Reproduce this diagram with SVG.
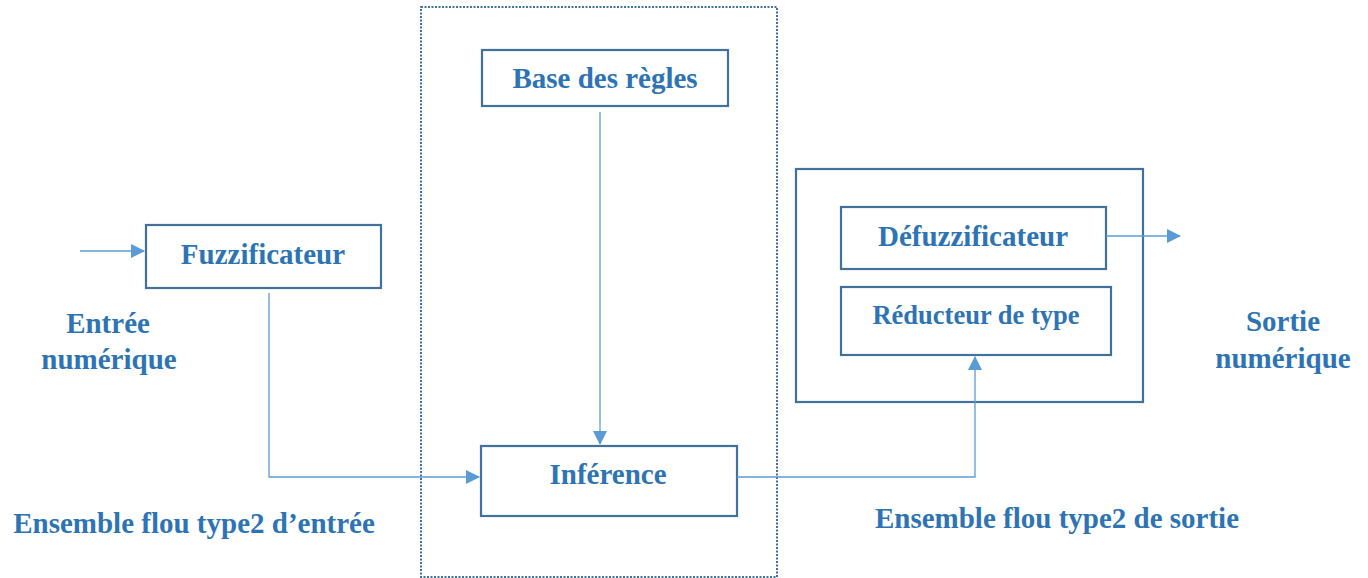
<svg xmlns="http://www.w3.org/2000/svg" width="1368" height="578" viewBox="0 0 1368 578">
<style>
.box{fill:#fff;stroke:#41719C;stroke-width:2.2}
.lbl{font-family:"Liberation Serif","Times New Roman",serif;font-weight:bold;fill:#2E74B5;font-size:29px;text-anchor:middle}
.con{fill:none;stroke:#5B9BD5;stroke-width:1.3}
</style>
<defs>
<marker id="ahl" markerWidth="14" markerHeight="14" refX="13" refY="7" orient="auto" markerUnits="userSpaceOnUse" viewBox="0 0 14 14">
<path d="M0,0 L14,7 L0,14 Z" fill="#5B9BD5"/>
</marker>
</defs>
<rect x="0" y="0" width="1368" height="578" fill="#fff"/>
<g id="container">
<rect x="421" y="7" width="356" height="570" fill="none" stroke="#41719C" stroke-width="2" stroke-dasharray="2,1.5"/>
</g>
<g id="outer-right">
<rect class="box" x="796" y="169" width="347" height="233"/>
</g>
<g id="fuzzificateur">
<rect class="box" x="146" y="225" width="235" height="63"/>
<text class="lbl" x="263" y="264">Fuzzificateur</text>
</g>
<g id="base-regles">
<rect class="box" x="482" y="50" width="246" height="56"/>
<text class="lbl" x="605" y="88">Base des règles</text>
</g>
<g id="inference">
<rect class="box" x="481" y="446" width="256" height="70"/>
<text class="lbl" x="608" y="484">Inférence</text>
</g>
<g id="defuzzificateur">
<rect class="box" x="841" y="207" width="265" height="62"/>
<text class="lbl" x="973" y="246">Défuzzificateur</text>
</g>
<g id="reducteur">
<rect class="box" x="841" y="287" width="270" height="68"/>
<text class="lbl" x="976" y="324" style="font-size:26.5px">Réducteur de type</text>
</g>
<g id="labels">
<text class="lbl" x="108" y="333">Entrée</text>
<text class="lbl" x="109" y="369">numérique</text>
<text class="lbl" x="1283" y="331">Sortie</text>
<text class="lbl" x="1283" y="368">numérique</text>
<text class="lbl" x="194" y="533">Ensemble flou type2 d’entrée</text>
<text class="lbl" x="1057" y="528">Ensemble flou type2 de sortie</text>
</g>
<g id="connectors">
<line class="con" x1="80" y1="251" x2="144" y2="251" marker-end="url(#ahl)"/>
<polyline class="con" points="269,293 269,477 479,477" marker-end="url(#ahl)"/>
<line class="con" x1="600" y1="112" x2="600" y2="444" marker-end="url(#ahl)"/>
<polyline class="con" points="737,477 975,477 975,357" marker-end="url(#ahl)"/>
<line class="con" x1="1106" y1="236" x2="1180" y2="236" marker-end="url(#ahl)"/>
</g>
</svg>
